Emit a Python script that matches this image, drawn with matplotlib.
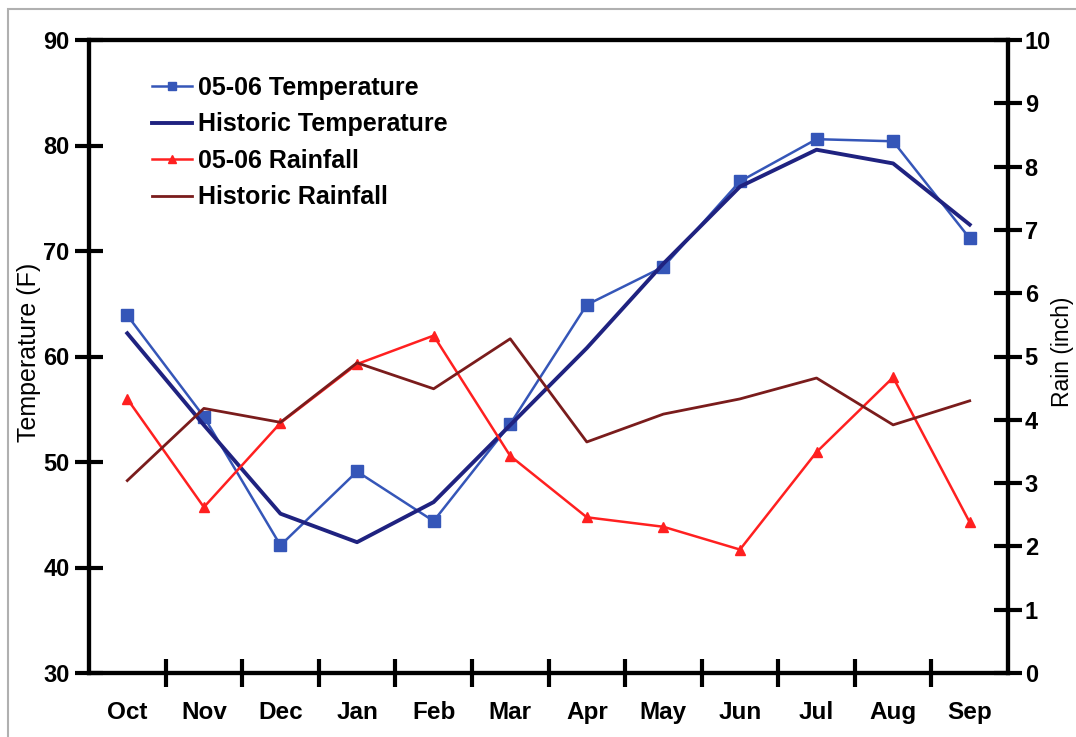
import matplotlib
matplotlib.use("Agg")
import matplotlib.pyplot as plt
from matplotlib.patches import Rectangle

months = ["Oct", "Nov", "Dec", "Jan", "Feb", "Mar", "Apr", "May", "Jun", "Jul", "Aug", "Sep"]
temp_0506 = [63.9, 54.3, 42.1, 49.1, 44.4, 53.6, 64.9, 68.5, 76.6, 80.6, 80.4, 71.2]
temp_hist = [62.2, 53.5, 45.1, 42.4, 46.2, 53.5, 60.8, 68.8, 76.1, 79.6, 78.3, 72.5]
rain_0506 = [4.33, 2.62, 3.95, 4.88, 5.33, 3.43, 2.46, 2.31, 1.95, 3.49, 4.67, 2.38]
rain_hist = [3.04, 4.18, 3.96, 4.90, 4.49, 5.28, 3.65, 4.09, 4.33, 4.66, 3.92, 4.30]

plt.rcParams['font.family'] = ['Liberation Sans', 'DejaVu Sans']

W, H = 1076, 737
fig = plt.figure(figsize=(W / 100, H / 100), dpi=100)
fig.patch.set_facecolor("white")
fig.patches.append(Rectangle((8 / W, -0.01), 1.05, 1 - 9 / H + 0.01, transform=fig.transFigure,
                             fill=False, edgecolor="#b0b0b0", linewidth=1.5))

L, R, T, B = 89, 1008, 40, 673
ax = fig.add_axes([L / W, 1 - B / H, (R - L) / W, (B - T) / H])
ax2 = ax.twinx()

x = list(range(len(months)))
l1, = ax.plot(x, temp_0506, color="#3556b8", lw=1.8, marker="s", ms=8.5,
              label="05-06 Temperature")
l2, = ax.plot(x, temp_hist, color="#1f2280", lw=2.8, label="Historic Temperature")
l3, = ax2.plot(x, rain_0506, color="#ff2020", lw=1.8, marker="^", ms=7.5,
               label="05-06 Rainfall")
l4, = ax2.plot(x, rain_hist, color="#7a1c1c", lw=2.0, label="Historic Rainfall")

ax.set_xlim(-0.5, len(months) - 0.5)
ax.set_ylim(30, 90)
ax2.set_ylim(0, 10)
ax.set_yticks(range(30, 91, 10))
ax2.set_yticks(range(0, 11, 1))

ax.set_xticks([i + 0.5 for i in range(len(months) - 1)])
ax.set_xticklabels([])
ax.set_xticks(x, minor=True)
ax.set_xticklabels(months, minor=True, fontsize=17.5, fontweight="bold")
ax.tick_params(axis="x", which="major", direction="inout", length=20, width=3)
ax.tick_params(axis="x", which="minor", length=0, pad=20)
ax.tick_params(axis="y", direction="inout", length=20, width=3, labelsize=17, pad=4)
ax2.tick_params(axis="y", direction="inout", length=20, width=3, labelsize=17, pad=2)
for lab in ax.get_yticklabels() + ax2.get_yticklabels():
    lab.set_fontweight("bold")

for a in (ax, ax2):
    for s in a.spines.values():
        s.set_linewidth(3)
        s.set_color("black")

ymid = 1 - 352 / H
fig.text(29 / W, ymid, "Temperature (F)", fontsize=18, rotation=90, ha="center", va="center")
fig.text(1063 / W, ymid, "Rain (inch)", fontsize=16.5, rotation=90, ha="center", va="center")

leg = ax2.legend(handles=[l1, l2, l3, l4], loc="upper left",
                 bbox_to_anchor=(152 / W, 1 - 76 / H), bbox_transform=fig.transFigure,
                 frameon=False, borderpad=0, borderaxespad=0, handlelength=1.6,
                 handletextpad=0.25, labelspacing=0.5, markerscale=0.75,
                 prop={"size": 18, "weight": "bold"})

fig.savefig("out.png", dpi=100, facecolor="white")
